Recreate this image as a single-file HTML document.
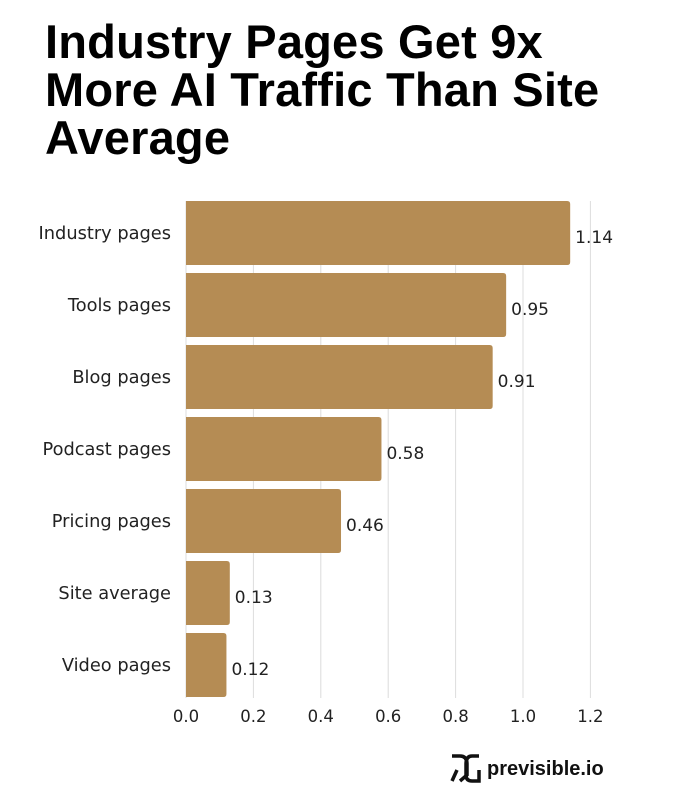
<!DOCTYPE html>
<html><head><meta charset="utf-8">
<style>
body{margin:0;background:#fff;width:676px;height:793px;overflow:hidden;font-family:"DejaVu Sans","Liberation Sans",sans-serif;}
#title{position:absolute;left:45px;top:18px;margin:0;font-family:"Liberation Sans",sans-serif;font-weight:bold;font-size:47px;line-height:48px;color:#000;letter-spacing:0.2px;}
svg{position:absolute;left:0;top:0}
</style></head><body>
<h1 id="title">Industry Pages Get 9x<br>More AI Traffic Than Site<br>Average</h1>
<svg id="chart" width="676" height="793"></svg>
<script>
const categories=["Industry pages","Tools pages","Blog pages","Podcast pages","Pricing pages","Site average","Video pages"];
const values=[1.14,0.95,0.91,0.58,0.46,0.13,0.12];
const ticks=[0,0.2,0.4,0.6,0.8,1.0,1.2];
const tickLabels=["0.0","0.2","0.4","0.6","0.8","1.0","1.2"];
const NS="http://www.w3.org/2000/svg";
const svg=document.getElementById('chart');
const x0=186,pxPer=337,top0=201,pitch=72,bh=64,bottom=698;
const xs=v=>x0+v*pxPer;
function mk(t,a){const e=document.createElementNS(NS,t);for(const k in a)e.setAttribute(k,a[k]);svg.appendChild(e);return e;}
ticks.forEach((t,i)=>{
 const g=mk('line',{x1:xs(t),x2:xs(t),y1:top0,y2:bottom,stroke:'#dcdcdc','stroke-width':1});
 
 
 const l=mk('text',{x:xs(t),y:722,'text-anchor':'middle','font-size':16.5,fill:'#222'});
 l.textContent=tickLabels[i];
 
 
});
categories.forEach((c,i)=>{
 const y=top0+i*pitch,w=xs(values[i])-x0;
 const b=mk('path',{d:`M${x0},${y}H${x0+w-3}Q${x0+w},${y} ${x0+w},${y+3}V${y+bh-3}Q${x0+w},${y+bh} ${x0+w-3},${y+bh}H${x0}Z`,fill:'#b58c54'});
 
 
 const l=mk('text',{x:171,y:y+bh/2+6,'text-anchor':'end','font-size':17.8,fill:'#222'});
 l.textContent=c;
 
 
 const v=mk('text',{x:x0+w+5,y:y+bh/2+10,'font-size':17,fill:'#222'});
 v.textContent=values[i].toFixed(2);
 
 
});
</script>
<svg width="676" height="793" style="pointer-events:none">
<g fill="none" stroke="#111" stroke-width="3.5">
<path d="M452,756 H460 Q467,756 467,764 V775 L460,781"/>
<path d="M479,756 H472 Q466,756 466,764 V775 Q466,781 472,781 H479 V770"/>
<path d="M457,770 L452,781"/>
</g>
<text x="487" y="775" font-family="Liberation Sans, sans-serif" font-weight="bold" font-size="20" fill="#111">previsible.io</text>
</svg>
</body></html>
